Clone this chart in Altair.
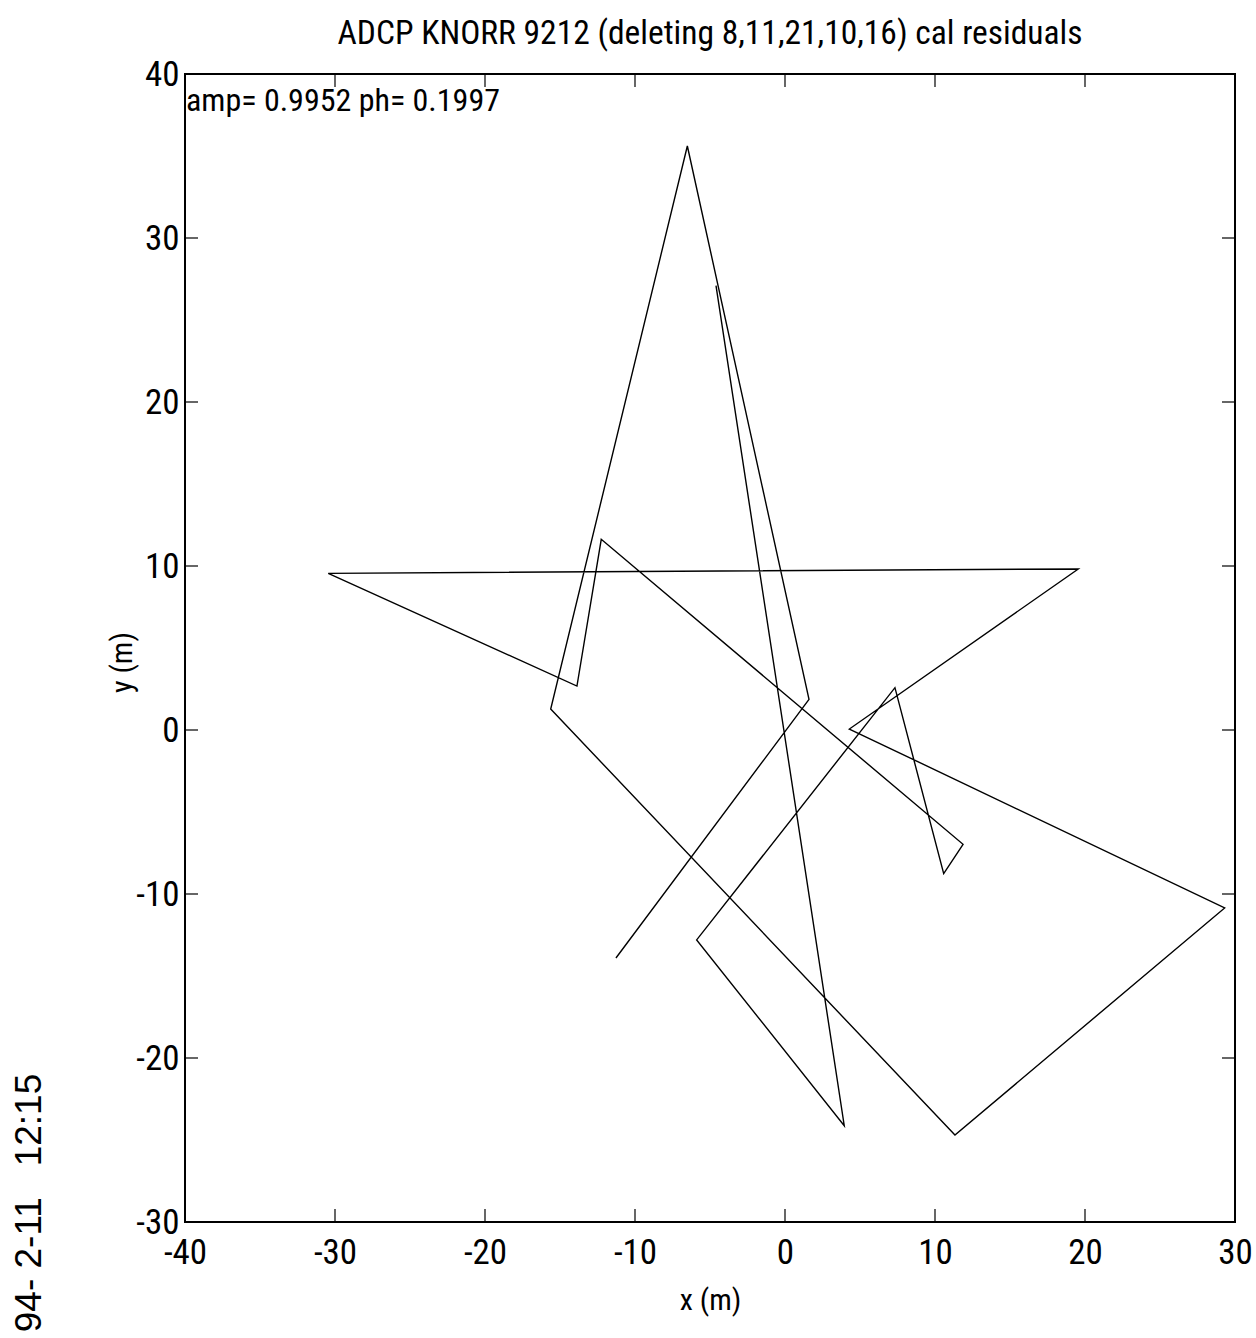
import altair as alt
import pandas as pd

# Calibration residual track (metres), in acquisition order
x_m = [-11.27, 1.60, -6.51, -15.62, 11.33, 29.31, 4.29, 19.55, -30.45,
       -13.87, -12.25, 11.87, 10.58, 7.33, -5.89, 3.95, -4.60]
y_m = [-13.90, 1.87, 35.61, 1.28, -24.70, -10.85, 0.06, 9.82, 9.55,
       2.68, 11.63, -6.97, -8.76, 2.58, -12.80, -24.13, 27.09]

x_ticks = [-40, -30, -20, -10, 0, 10, 20, 30]
y_ticks = [-30, -20, -10, 0, 10, 20, 30, 40]

title_text = "ADCP KNORR 9212 (deleting 8,11,21,10,16) cal residuals"
fit_text = "amp= 0.9952 ph= 0.1997"
stamp_text = "94- 2-11\u00a0\u00a0 12:15"

NARROW = "Liberation Sans Narrow, Arial Narrow, Roboto Condensed, sans-serif"
PLAIN = "Liberation Sans, Arial, Helvetica, sans-serif"

W, H = 1050, 1148
TICK = 13

# plain hyphen for negative tick labels
HYPHEN_LABEL = "datum.value < 0 ? '-' + abs(datum.value) : '' + datum.value"

track = pd.DataFrame({"x": x_m, "y": y_m, "step": range(len(x_m))})
xt = pd.DataFrame({"x": x_ticks})
yt = pd.DataFrame({"y": y_ticks})

xscale = alt.Scale(domain=[-40, 30], nice=False, zero=False)
yscale = alt.Scale(domain=[-30, 40], nice=False, zero=False)

x_axis = alt.Axis(values=x_ticks, ticks=False, domain=False, grid=False,
                  labelExpr=HYPHEN_LABEL,
                  labelFont=NARROW, labelFontSize=35, labelColor="black",
                  labelPadding=13, labelFlush=False, labelOverlap=False,
                  title="x (m)", titleFont=NARROW, titleFontSize=30,
                  titleFontWeight="normal", titleColor="black",
                  titleY=78, titleBaseline="middle")
y_axis = alt.Axis(values=y_ticks, ticks=False, domain=False, grid=False,
                  labelExpr=HYPHEN_LABEL,
                  labelFont=NARROW, labelFontSize=35, labelColor="black",
                  labelPadding=6, labelFlush=False, labelOverlap=False,
                  title="y (m)", titleFont=NARROW, titleFontSize=30,
                  titleFontWeight="normal", titleColor="black",
                  titleX=-48, titleY=588, titleBaseline="bottom")

path = alt.Chart(track).mark_line(color="black", strokeWidth=1.4).encode(
    x=alt.X("x:Q", scale=xscale, axis=x_axis),
    y=alt.Y("y:Q", scale=yscale, axis=y_axis),
    order="step:Q",
)

# inward tick marks on all four sides of the frame
tick_style = dict(color="black", strokeWidth=1.2)
bottom_ticks = alt.Chart(xt).mark_rule(**tick_style).encode(
    x=alt.X("x:Q", scale=xscale, axis=x_axis),
    y=alt.value(H), y2=alt.value(H - TICK))
top_ticks = alt.Chart(xt).mark_rule(**tick_style).encode(
    x=alt.X("x:Q", scale=xscale, axis=x_axis),
    y=alt.value(0), y2=alt.value(TICK))
left_ticks = alt.Chart(yt).mark_rule(**tick_style).encode(
    y=alt.Y("y:Q", scale=yscale, axis=y_axis),
    x=alt.value(0), x2=alt.value(TICK))
right_ticks = alt.Chart(yt).mark_rule(**tick_style).encode(
    y=alt.Y("y:Q", scale=yscale, axis=y_axis),
    x=alt.value(W), x2=alt.value(W - TICK))

fit_label = alt.Chart(pd.DataFrame({"t": [fit_text]})).mark_text(
    font=NARROW, fontSize=32, align="left", baseline="alphabetic", color="black"
).encode(text="t:N", x=alt.value(1), y=alt.value(37))

stamp_label = alt.Chart(pd.DataFrame({"t": [stamp_text]})).mark_text(
    font=PLAIN, fontSize=37, align="center", baseline="middle", angle=270,
    color="black"
).encode(text="t:N", x=alt.value(-155), y=alt.value(1129))

chart = alt.layer(
    path, bottom_ticks, top_ticks, left_ticks, right_ticks, fit_label, stamp_label
).properties(
    width=W, height=H,
    title=alt.TitleParams(title_text, font=NARROW, fontSize=33.5,
                          fontWeight="normal", color="black", anchor="middle",
                          offset=6),
    autosize=alt.AutoSizeParams(type="none"),
    padding={"left": 185, "top": 74, "right": 21, "bottom": 116},
).configure_view(stroke="black", strokeWidth=2)

chart.save("out.html", embed_options={"renderer": "svg", "actions": False})
